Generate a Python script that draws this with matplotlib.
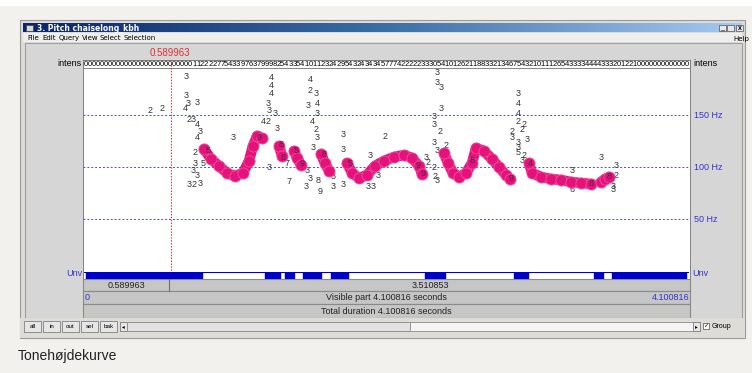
import numpy as np
import matplotlib
matplotlib.use("Agg")
import matplotlib.pyplot as plt
from matplotlib.patches import Rectangle
from matplotlib.colors import LinearSegmentedColormap

plt.rcParams["font.family"] = ["Liberation Sans", "DejaVu Sans"]

W, H = 752, 373
DUR = 4.100816
CURSOR = 0.589963
HZ_TOP = 195.2
GRID_HZ = [50, 100, 150]

# voiced stretches of the pitch contour (s, Hz)
PITCH_T = [
    [0.813, 0.861, 0.915, 0.969, 1.023, 1.078, 1.118, 1.145, 1.173, 1.206],
    [1.322, 1.342],
    [1.423, 1.444, 1.471],
    [1.606, 1.633, 1.661],
    [1.783, 1.817, 1.864, 1.918, 1.972, 2.033, 2.101, 2.169, 2.223, 2.271, 2.291],
    [2.440, 2.467, 2.501, 2.542, 2.589, 2.630, 2.657, 2.711, 2.765, 2.813, 2.860, 2.887],
    [3.016, 3.037, 3.098, 3.165, 3.233, 3.301, 3.369, 3.436],
    [3.504, 3.531, 3.558],
]
PITCH_HZ = [
    [117.3, 107.7, 101.0, 94.2, 91.3, 94.2, 105.8, 120.2, 129.8, 127.9],
    [120.2, 110.6],
    [115.4, 108.7, 101.9],
    [112.5, 103.8, 96.2],
    [103.8, 94.2, 89.4, 92.3, 101.0, 105.8, 109.6, 111.5, 108.7, 101.0, 93.3],
    [113.5, 103.8, 94.2, 90.4, 94.2, 103.8, 118.3, 115.4, 107.7, 100.0, 92.3, 88.5],
    [103.8, 94.2, 90.4, 88.5, 87.5, 85.6, 84.6, 83.7],
    [85.6, 88.5, 90.4],
]

# unvoiced intervals (s)
UNV_START = [0.014, 1.227, 1.362, 1.484, 1.674, 2.311, 2.914, 3.457, 3.579]
UNV_END = [0.800, 1.328, 1.423, 1.606, 1.789, 2.447, 3.009, 3.518, 4.080]

# candidate digits (s, Hz, strength digit)
CAND_T = [0.447, 0.529, 0.691, 0.691, 0.705, 0.766, 0.685, 0.712, 0.739, 0.766,
          0.786, 0.766, 1.010, 0.752, 0.752, 0.807, 0.739, 0.766, 0.712, 0.746,
          0.786, 1.267, 1.267, 1.267, 1.247, 1.254, 1.213, 1.247, 1.295, 1.308,
          1.254, 1.376, 1.389, 1.532, 1.532, 1.572, 1.518, 1.579, 1.579, 1.545,
          1.572, 1.579, 1.552, 1.511, 1.532, 1.505, 1.586, 1.600, 1.688, 1.688,
          1.755, 1.755, 1.755, 1.939, 2.040, 1.925, 1.959, 1.993, 2.393, 2.393,
          2.420, 2.420, 2.372, 2.372, 2.413, 2.372, 2.393, 2.318, 2.332, 2.372,
          2.379, 2.393, 2.454, 2.942, 2.942, 2.942, 2.942, 2.982, 2.969, 2.901,
          2.901, 3.003, 2.942, 2.942, 2.942, 2.982, 2.969, 3.504, 3.606, 3.308,
          3.606, 3.308, 3.586, 3.586]
CAND_HZ = [154.8, 156.7, 187.5, 169.2, 161.5, 162.5, 155.8, 146.1, 146.1, 140.4,
           134.6, 128.8, 127.9, 114.4, 103.8, 103.8, 97.1, 92.3, 82.7, 82.7,
           84.6, 186.5, 178.8, 171.1, 161.5, 154.8, 143.3, 143.3, 151.9, 137.5,
           100.0, 103.8, 85.6, 183.7, 173.1, 171.1, 158.7, 161.5, 151.9, 143.3,
           136.5, 128.8, 119.2, 97.1, 89.4, 81.7, 87.5, 76.0, 91.3, 81.7,
           130.8, 117.3, 82.7, 110.6, 129.8, 81.7, 81.7, 92.3, 190.4, 181.7,
           176.0, 156.7, 148.1, 140.4, 133.7, 123.1, 116.3, 109.6, 104.8, 100.0,
           90.4, 87.5, 120.2, 171.1, 161.5, 151.9, 143.3, 141.3, 135.6, 133.7,
           127.9, 126.0, 124.0, 118.3, 113.5, 111.5, 106.7, 108.7, 101.9, 97.1,
           92.3, 77.9, 80.8, 77.9]
CAND_LBL = ("223333423434323533323"
            "444334233377423343423333389333"
            "3332333333333233322232344"
            "2222333352333326333355")

# digits printed on the selected path
ON_T = [0.840, 1.186, 1.335, 1.349, 1.437, 1.478, 1.627, 1.803,
        2.264, 2.298, 2.630, 2.894, 3.023, 3.436, 3.558]
ON_HZ = [116.3, 128.8, 121.2, 109.6, 116.3, 102.9, 112.5, 103.8,
         101.9, 94.2, 105.8, 89.4, 103.8, 83.7, 90.4]
ON_LBL = "598859859989488"

INTENS = ("000000000000000000000000"
          "0001122227754339763799982543354101123242954324343457"
          "77422222333054101262118833213467543210111265433334444333201221"
          "0000000000000")

BLUE = "#3333cc"
PINK = "#e6127c"

fig = plt.figure(figsize=(W / 100, H / 100), dpi=100)
fig.patch.set_facecolor("#f2f1ee")

bg = fig.add_axes([0, 0, 1, 1])
bg.axis("off")


def box(x0, y0, x1, y1, fc, ec="none", lw=0.8, z=1):
    bg.add_patch(Rectangle((x0, y0), x1 - x0, y1 - y0, fc=fc, ec=ec, lw=lw, zorder=z))


def px_axes(x0, y0, x1, y1):
    ax = fig.add_axes([x0 / W, 1 - y1 / H, (x1 - x0) / W, (y1 - y0) / H])
    ax.patch.set_visible(False)
    ax.axis("off")
    return ax


# window chrome
box(0, 0, W, 6, "white")
box(20, 20, 745, 338, "#dedcd6", ec="#9a9a9a")
tb = LinearSegmentedColormap.from_list("tb", ["#0a246a", "#3a6ea5", "#a6caf0"])
bg.imshow(np.linspace(0, 1, 256)[None, :], extent=(23, 742, 32, 23), cmap=tb,
          aspect="auto", zorder=2)
box(26, 24.5, 33, 31, "#d8d8d8", ec="#404040", lw=0.5, z=3)
bg.text(37, 28, "3. Pitch chaiselong_kbh", color="white", fontsize=5.5, weight="bold",
        va="center", family="DejaVu Sans", zorder=4)
for bx in (719, 727, 736):
    box(bx, 24.5, bx + 7, 31, "#e8e8e8", ec="#505050", lw=0.5, z=3)
bg.text(722.5, 27.5, "_", fontsize=5, ha="center", va="center", zorder=4)
bg.text(739.5, 28, "x", fontsize=5, ha="center", va="center", weight="bold", zorder=4)
box(23, 33, 742, 42, "#eeeeec")
for mx, lab in zip([27, 42, 59, 82, 100, 123],
                   ["File", "Edit", "Query", "View", "Select", "Selection"]):
    bg.text(mx, 38, lab, fontsize=5, va="center", family="DejaVu Sans")
bg.text(733, 38.5, "Help", fontsize=5, va="center", family="DejaVu Sans")

# editor panel
box(25, 43, 742, 318, "#d6d6d6", ec="#a0a0a0")
box(83, 60, 690, 279, "white", ec="#707070", lw=0.6)
box(83, 60, 690, 68, "white", ec="#707070", lw=0.6)
box(83, 279, 690, 291, "#c6c6c6", ec="#8a8a8a", lw=0.8)
box(83, 291, 690, 304, "#c6c6c6", ec="#8a8a8a", lw=0.8)
box(83, 304, 690, 318, "#c6c6c6", ec="#8a8a8a", lw=0.8)
bg.text(81, 64, "intens", fontsize=6.5, ha="right", va="center")
bg.text(693, 64, "intens", fontsize=6.5, ha="left", va="center")
bg.text(82, 274, "Unv", fontsize=6.5, ha="right", va="center", color=BLUE)
bg.text(692, 274, "Unv", fontsize=6.5, ha="left", va="center", color=BLUE)

# bottom buttons and scrollbar
box(20, 318, 745, 338, "#dedcd6")
for i, lab in enumerate(["all", "in", "out", "sel", "bak"]):
    x0 = 24 + i * 19
    box(x0, 321, x0 + 17, 332, "#e6e6e6", ec="#808080", lw=0.6)
    bg.text(x0 + 8.5, 326.5, lab, fontsize=4.5, ha="center", va="center")
box(120, 322, 700, 331, "#f4f4f4", ec="#8a8a8a", lw=0.6)
box(120, 322, 127, 331, "#e6e6e6", ec="#808080", lw=0.6)
box(127, 322, 410, 331, "#e2e2e0", ec="#8a8a8a", lw=0.6)
box(693, 322, 700, 331, "#e6e6e6", ec="#808080", lw=0.6)
bg.text(123.5, 326.5, "◂", fontsize=4, ha="center", va="center", family="DejaVu Sans")
bg.text(696.5, 326.5, "▸", fontsize=4, ha="center", va="center", family="DejaVu Sans")
box(703, 322.5, 709, 328.5, "white", ec="#505050", lw=0.5)
bg.text(706, 325.5, "✓", fontsize=4.5, ha="center", va="center", family="DejaVu Sans")
bg.text(712, 326, "Group", fontsize=5, va="center")

bg.text(18, 356, "Tonehøjdekurve", fontsize=10, va="center", color="#222222")

bg.set_xlim(0, W)
bg.set_ylim(H, 0)

# intensity digit row
iax = px_axes(84, 60, 689, 68)
iax.set_xlim(0, DUR)
iax.set_ylim(0, 1)
step = DUR / len(INTENS)
for i, ch in enumerate(INTENS):
    iax.text((i + 0.5) * step, 0.45, ch, fontsize=5.5, ha="center", va="center")

# pitch area
pax = px_axes(84, 68, 689, 271)
pax.set_xlim(0, DUR)
pax.set_ylim(0, HZ_TOP)
for hz in GRID_HZ:
    pax.axhline(hz, xmin=-0.002, xmax=1.002, color="#4a4ae0", lw=0.7,
                ls=(0, (2, 2)), clip_on=False)
    pax.text(1.008, hz, f"{hz} Hz", transform=pax.get_yaxis_transform(),
             fontsize=6.5, color=BLUE, va="center")
pax.axvline(CURSOR, ymin=-8 / 203, ymax=211 / 203, color="#e03030", lw=0.7,
            ls=(0, (1.5, 1.5)), clip_on=False)
for t, hz, lab in zip(CAND_T, CAND_HZ, CAND_LBL):
    pax.text(t, hz, lab, fontsize=6.5, color="#333333", ha="center", va="center")
for t, hz in zip(PITCH_T, PITCH_HZ):
    pax.plot(t, hz, color=PINK, lw=7.5, solid_capstyle="round",
             solid_joinstyle="round", zorder=3)
    pax.plot(t, hz, "o", ms=8, mfc=PINK, mec="#f04f9a", mew=0.6, zorder=3)
for t, hz, lab in zip(ON_T, ON_HZ, ON_LBL):
    pax.text(t, hz, lab, fontsize=6.5, color="#552244", ha="center", va="center", zorder=4)

bg.text(170, 53, f"{CURSOR:.6f}", fontsize=7, color="#e03030", ha="center", va="center")

# voicing bar
vax = px_axes(84, 272, 689, 279)
vax.set_xlim(0, DUR)
vax.set_ylim(0, 1)
vax.axhline(0.95, color="#0000cc", lw=0.8)
vax.broken_barh([(s, e - s) for s, e in zip(UNV_START, UNV_END)], (0, 1), color="#0000cc")

# info rows
bg.plot([169, 169], [279, 291], color="#707070", lw=0.8)
bg.text(126, 285, f"{CURSOR:.6f}", fontsize=6.5, ha="center", va="center", color="#222222")
bg.text(430, 285, f"{DUR - CURSOR:.6f}", fontsize=6.5, ha="center", va="center", color="#222222")
bg.text(85, 297.5, "0", fontsize=6.5, va="center", color=BLUE)
bg.text(386, 297.5, f"Visible part {DUR:.6f} seconds", fontsize=6.5, ha="center",
        va="center", color="#222222")
bg.text(689, 297.5, f"{DUR:.6f}", fontsize=6.5, ha="right", va="center", color=BLUE)
bg.text(386, 311, f"Total duration {DUR:.6f} seconds", fontsize=6.5, ha="center",
        va="center", color="#222222")

fig.savefig("out.png", dpi=100, facecolor=fig.get_facecolor())
